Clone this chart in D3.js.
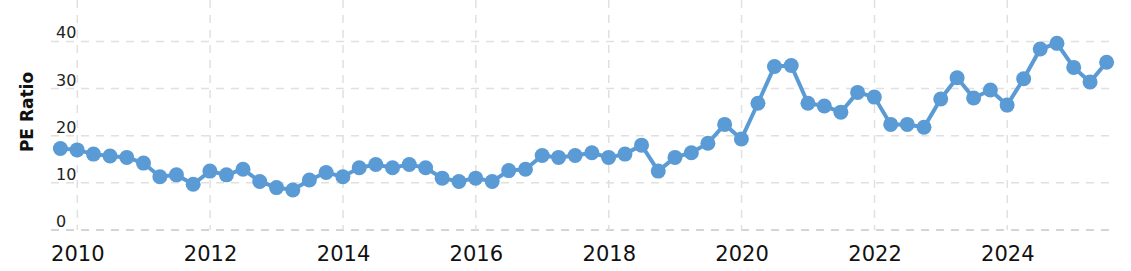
<!DOCTYPE html>
<html>
<head>
<meta charset="utf-8">
<script src="https://cdn.jsdelivr.net/npm/d3@7"></script>
<style>
  body { margin: 0; background: #fff; }
  svg { display: block; font-family: "DejaVu Sans", Verdana, sans-serif; }
</style>
</head>
<body>
<svg class="chart"></svg>
<script>
// quarterly PE ratio, Q3 2009 -> Q2 2025
var startYear = 2009, startQuarter = 3;
var peValues = [
  17.3, 17.0, 16.1, 15.7, 15.4, 14.2, 11.3, 11.7, 9.7, 12.5,
  11.7, 12.9, 10.3, 9.0, 8.5, 10.6, 12.2, 11.3, 13.2, 13.9,
  13.2, 13.9, 13.2, 11.0, 10.3, 11.0, 10.3, 12.6, 12.9, 15.8,
  15.4, 15.8, 16.4, 15.4, 16.1, 18.0, 12.5, 15.4, 16.4, 18.4,
  22.4, 19.3, 26.9, 34.7, 34.9, 26.9, 26.3, 25.0, 29.2, 28.2,
  22.4, 22.4, 21.8, 27.8, 32.3, 28.0, 29.7, 26.5, 32.1, 38.4,
  39.6, 34.5, 31.4, 35.6
];
var yTicks = [0, 10, 20, 30, 40];
var xTickYears = [2010, 2012, 2014, 2016, 2018, 2020, 2022, 2024];
var yLabel = "PE Ratio";

var width = 1131, height = 271;
var blue = "#5b9bd5";

// quarter-end dates
var data = peValues.map(function(v, i) {
  var q = startQuarter - 1 + i;
  var yr = startYear + Math.floor(q / 4);
  var m = (q % 4) * 3 + 3;           // month after quarter end
  var d = new Date(yr, m, 0);        // last day of quarter
  return { date: d, value: v };
});

var chart = d3.select(".chart")
  .attr("width", width)
  .attr("height", height);

var x = d3.scaleTime()
  .domain([new Date(2010, 0, 1), new Date(2024, 0, 1)])
  .range([77.3, 1007.3]);

var y = d3.scaleLinear()
  .domain([0, 48.8])
  .range([230, 0]);

var gridLeft = 51, gridRight = 1110;

// horizontal grid
chart.append("g").selectAll("line")
  .data(yTicks)
  .enter().append("line")
  .attr("x1", gridLeft)
  .attr("x2", gridRight)
  .attr("y1", function(d) { return y(d); })
  .attr("y2", function(d) { return y(d); })
  .attr("stroke", function(d) { return d == 0 ? "#c8c8c8" : "#e0e0e0"; })
  .attr("stroke-width", 1.5)
  .attr("stroke-dasharray", "8,7");

// vertical grid
chart.append("g").selectAll("line")
  .data(xTickYears)
  .enter().append("line")
  .attr("x1", function(d) { return x(new Date(d, 0, 1)); })
  .attr("x2", function(d) { return x(new Date(d, 0, 1)); })
  .attr("y1", 0)
  .attr("y2", y(0))
  .attr("stroke", "#e0e0e0")
  .attr("stroke-width", 1.5)
  .attr("stroke-dasharray", "8,7");

// y tick labels sit above their gridline
chart.append("g").selectAll("text")
  .data(yTicks)
  .enter().append("text")
  .attr("x", 56)
  .attr("y", function(d) { return y(d) - 3; })
  .attr("font-size", 16)
  .attr("fill", "#222")
  .text(function(d) { return d; });

// x axis labels
var xAxis = d3.axisBottom(x)
  .tickValues(xTickYears.map(function(yr) { return new Date(yr, 0, 1); }))
  .tickFormat(d3.timeFormat("%Y"))
  .tickSize(0)
  .tickPadding(0);

chart.append("g")
  .attr("transform", "translate(0," + 261 + ")")
  .call(customXAxis);

function customXAxis(g) {
  g.call(xAxis);
  g.select(".domain").remove();
  g.selectAll(".tick text")
    .attr("font-family", "DejaVu Sans, Verdana, sans-serif")
    .attr("font-size", 21)
    .attr("fill", "#111")
    .attr("dy", 0);
}

chart.append("text")
  .attr("transform", "translate(33,112) rotate(-90)")
  .attr("text-anchor", "middle")
  .attr("font-size", 17)
  .attr("font-weight", "bold")
  .attr("fill", "#111")
  .text(yLabel);

var line = d3.line()
  .x(function(d) { return x(d.date); })
  .y(function(d) { return y(d.value); });

chart.append("path")
  .datum(data)
  .attr("fill", "none")
  .attr("stroke", blue)
  .attr("stroke-width", 4)
  .attr("d", line);

chart.append("g").selectAll("circle")
  .data(data)
  .enter().append("circle")
  .attr("cx", function(d) { return x(d.date); })
  .attr("cy", function(d) { return y(d.value); })
  .attr("r", 7.5)
  .attr("fill", blue);
</script>
</body>
</html>
